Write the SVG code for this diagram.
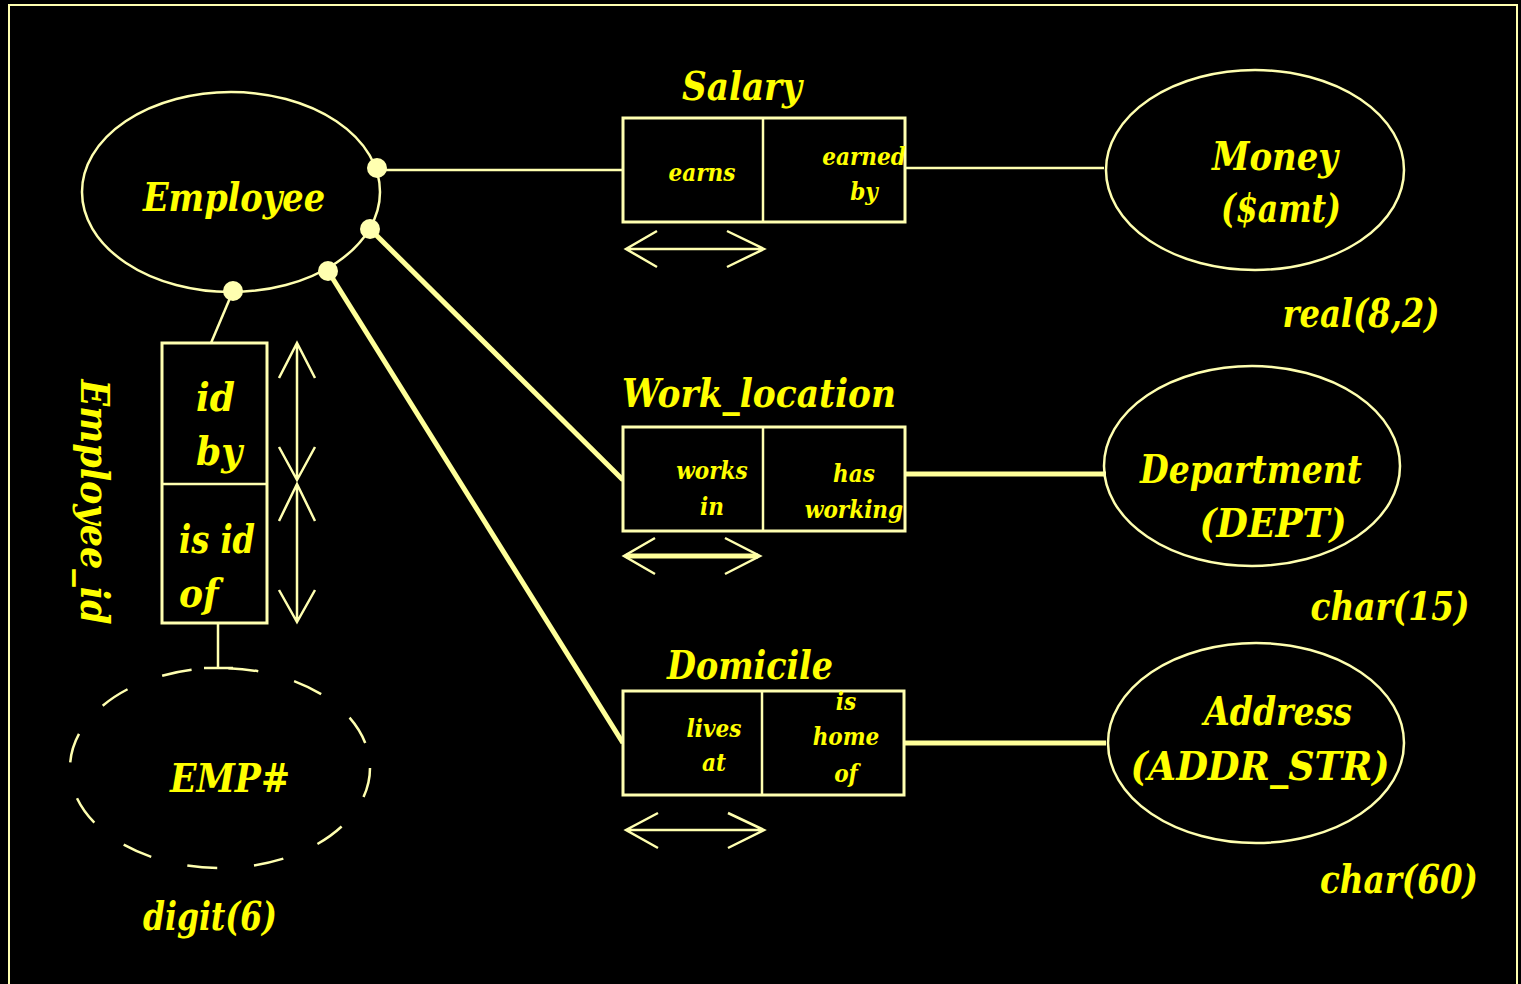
<svg xmlns="http://www.w3.org/2000/svg" width="1521" height="984" viewBox="0 0 1521 984">
<style>
.ln{stroke:#ffffb0;fill:none;stroke-width:2.5}
.thk{stroke:#ffff99;fill:none;stroke-width:5}
.box{stroke:#ffffb0;fill:#000;stroke-width:3}
.dash{stroke:#ffffb0;fill:none;stroke-width:2.5;stroke-dasharray:30 37}
.dot{fill:#ffffb0}
text{font-family:"DejaVu Serif","Liberation Serif",serif;font-weight:bold;font-style:italic;font-stretch:condensed;fill:#ffff00}
.big{font-size:40px}
.sm{font-size:24px}
.mid{text-anchor:middle}
</style>
<rect x="0" y="0" width="1521" height="984" fill="#000"/>
<rect x="9" y="5" width="1508" height="990" fill="none" stroke="#ffffb0" stroke-width="2"/>

<g id="connectors">
<line class="ln" x1="377" y1="170" x2="623" y2="170"/>
<line class="ln" x1="905" y1="168" x2="1104" y2="168"/>
<line class="thk" x1="370" y1="229" x2="623" y2="480"/>
<line class="thk" x1="905" y1="474" x2="1106" y2="474"/>
<line class="thk" x1="328" y1="271" x2="623" y2="743"/>
<line class="thk" x1="901" y1="743" x2="1106" y2="743"/>
<line class="ln" x1="233" y1="291" x2="211" y2="343"/>
<line class="ln" x1="218" y1="623" x2="218" y2="668"/>
<line class="ln" x1="204" y1="668" x2="233" y2="668"/>
<path class="ln" d="M626 249 H764 M657 231 L626 249 L657 267 M727 231 L764 249 L727 267"/>
<path class="thk" d="M626 556 H758"/>
<path class="ln" d="M655 538 L624 556 L655 574 M725 538 L760 556 L725 574"/>
<path class="ln" d="M626 830 H764 M658 813 L626 830 L658 848 M728 813 L764 830 L728 848"/>
<path class="ln" stroke-width="2" d="M297 343 V480 M279 378 L297 343 L315 378 M279 447 L297 480 L315 447"/>
<path class="ln" stroke-width="2" d="M297 484 V622 M279 521 L297 484 L315 521 M279 590 L297 622 L315 590"/>
</g>

<g id="employee">
<ellipse class="ln" cx="231" cy="192" rx="149" ry="100"/>
<text class="big mid" x="234" y="211" textLength="182" lengthAdjust="spacingAndGlyphs">Employee</text>
<circle class="dot" cx="377" cy="168" r="10"/>
<circle class="dot" cx="370" cy="229" r="10"/>
<circle class="dot" cx="328" cy="271" r="10"/>
<circle class="dot" cx="233" cy="291" r="10"/>
</g>

<g id="salary">
<text class="big mid" x="742" y="100" textLength="120" lengthAdjust="spacingAndGlyphs">Salary</text>
<rect class="box" x="623" y="118" width="282" height="104"/>
<line class="ln" x1="763" y1="118" x2="763" y2="222" stroke-width="3"/>
<text class="sm mid" x="702" y="181">earns</text>
<text class="sm mid" x="864" y="165">earned</text>
<text class="sm mid" x="864" y="200">by</text>
</g>

<g id="money">
<ellipse class="ln" cx="1255" cy="170" rx="149" ry="100"/>
<text class="big mid" x="1275" y="170" textLength="126" lengthAdjust="spacingAndGlyphs">Money</text>
<text class="big mid" x="1281" y="222" textLength="120" lengthAdjust="spacingAndGlyphs">($amt)</text>
<text class="big mid" x="1361" y="327" textLength="157" lengthAdjust="spacingAndGlyphs">real(8,2)</text>
</g>

<g id="work_location">
<text class="big mid" x="759" y="407" textLength="274" lengthAdjust="spacingAndGlyphs">Work_location</text>
<rect class="box" x="623" y="427" width="282" height="104"/>
<line class="ln" x1="763" y1="427" x2="763" y2="531" stroke-width="3"/>
<text class="sm mid" x="712" y="479">works</text>
<text class="sm mid" x="712" y="515">in</text>
<text class="sm mid" x="854" y="482">has</text>
<text class="sm mid" x="854" y="518">working</text>
</g>

<g id="department">
<ellipse class="ln" cx="1252" cy="466" rx="148" ry="100"/>
<text class="big mid" x="1251" y="483" textLength="222" lengthAdjust="spacingAndGlyphs">Department</text>
<text class="big mid" x="1273" y="537" textLength="147" lengthAdjust="spacingAndGlyphs">(DEPT)</text>
<text class="big mid" x="1390" y="620" textLength="159" lengthAdjust="spacingAndGlyphs">char(15)</text>
</g>

<g id="domicile">
<text class="big mid" x="750" y="679" textLength="166" lengthAdjust="spacingAndGlyphs">Domicile</text>
<rect class="box" x="623" y="691" width="281" height="104"/>
<line class="ln" x1="762" y1="691" x2="762" y2="795" stroke-width="3"/>
<text class="sm mid" x="714" y="737">lives</text>
<text class="sm mid" x="714" y="771">at</text>
<text class="sm mid" x="846" y="710">is</text>
<text class="sm mid" x="846" y="745">home</text>
<text class="sm mid" x="846" y="782">of</text>
</g>

<g id="address">
<ellipse class="ln" cx="1256" cy="743" rx="148" ry="100"/>
<text class="big mid" x="1278" y="725" textLength="148" lengthAdjust="spacingAndGlyphs">Address</text>
<text class="big mid" x="1260" y="780" textLength="259" lengthAdjust="spacingAndGlyphs">(ADDR_STR)</text>
<text class="big mid" x="1399" y="893" textLength="158" lengthAdjust="spacingAndGlyphs">char(60)</text>
</g>

<g id="employee_id">
<rect class="box" x="162" y="343" width="105" height="280" stroke-width="2"/>
<line class="ln" x1="162" y1="484" x2="267" y2="484" stroke-width="2"/>
<text class="big" x="196" y="411">id</text>
<text class="big" x="196" y="465">by</text>
<text class="big" x="179" y="553" textLength="76" lengthAdjust="spacingAndGlyphs">is id</text>
<text class="big" x="179" y="607">of</text>
<text class="big mid" transform="translate(81,502) rotate(90)" x="0" y="0" textLength="245" lengthAdjust="spacingAndGlyphs">Employee_id</text>
</g>

<g id="emp_num">
<ellipse class="dash" cx="220" cy="768" rx="150" ry="100"/>
<text class="big mid" x="230" y="792" textLength="120" lengthAdjust="spacingAndGlyphs">EMP#</text>
<text class="big mid" x="210" y="930" textLength="134" lengthAdjust="spacingAndGlyphs">digit(6)</text>
</g>
</svg>
